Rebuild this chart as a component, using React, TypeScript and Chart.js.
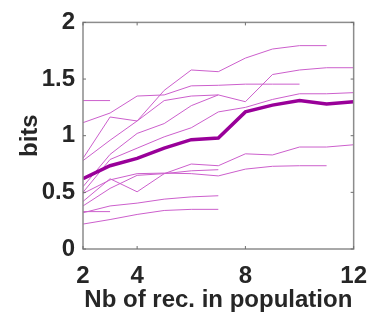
import React, { useEffect, useRef } from "react";
import { Chart, registerables } from "chart.js";

Chart.register(...registerables);

// x: number of receptors in population
const popSizes = [2, 3, 4, 5, 6, 7, 8, 9, 10, 11, 12];
const xTickValues = [2, 4, 8, 12];
const yTickValues = [0, 0.5, 1, 1.5, 2];
const yTickLabels = ["0", "0.5", "1", "1.5", "2"];

// individual populations (bits), starting at popSize 2
const popA = [1.31, 1.31];
const popB = [1.115, 1.2, 1.35, 1.36, 1.44, 1.445, 1.455, 1.455, 1.455];
const popC = [0.8, 1.165, 1.13, 1.4, 1.58, 1.565, 1.685, 1.765, 1.795, 1.795];
const popE = [0.78, 0.96, 1.13, 1.31, 1.35, 1.36, 1.3, 1.54, 1.58, 1.6, 1.6];
const popG = [0.55, 0.835, 1.02, 1.107, 1.265, 1.36];
const popF = [0.5, 0.79, 0.89, 0.99, 1.07, 1.21, 1.25, 1.32, 1.37, 1.37, 1.38];
const popH = [0.38, 0.535, 0.65, 0.665, 0.75, 0.735, 0.84, 0.83, 0.9, 0.9, 0.92];
const popI = [0.49, 0.61, 0.665, 0.67, 0.665, 0.645, 0.705, 0.73, 0.735, 0.735];
const popJ = [0.42, 0.62, 0.505, 0.665, 0.69, 0.7];
const popK = [0.32, 0.38, 0.405, 0.44, 0.46, 0.47];
const popM = [0.22, 0.26, 0.305, 0.34, 0.35, 0.35];
const popN = [0.33, 0.33];

// mean over populations
const meanBits = [0.62, 0.735, 0.8, 0.89, 0.965, 0.98, 1.21, 1.27, 1.31, 1.28, 1.3];

const thinSeries = [popA, popB, popC, popE, popG, popF, popH, popI, popJ, popK, popM, popN];

const FONT = "'Liberation Sans', Arial, Helvetica, sans-serif";
const TEXT = "#262626";
const THIN = "#cc5fcc";
const MEAN = "#990099";

const toPoints = (vals: number[]) => vals.map((v, i) => ({ x: popSizes[i], y: v }));

const boxPlugin = {
  id: "matlabBox",
  afterDatasetsDraw(chart: any) {
    const { ctx, chartArea, scales } = chart;
    const { left, right, top, bottom } = chartArea;
    ctx.save();
    ctx.strokeStyle = "#8c8c8c";
    ctx.lineWidth = 1.5;
    ctx.strokeRect(left, top, right - left, bottom - top);
    ctx.lineWidth = 1;
    ctx.strokeStyle = "#6e6e6e";
    ctx.beginPath();
    xTickValues.forEach((v) => {
      const px = scales.x.getPixelForValue(v);
      ctx.moveTo(px, bottom);
      ctx.lineTo(px, bottom - 3);
      ctx.moveTo(px, top);
      ctx.lineTo(px, top + 3);
    });
    yTickValues.forEach((v) => {
      const py = scales.y.getPixelForValue(v);
      ctx.moveTo(left, py);
      ctx.lineTo(left + 3, py);
      ctx.moveTo(right, py);
      ctx.lineTo(right - 3, py);
    });
    ctx.stroke();
    ctx.restore();
  },
};

export default function App() {
  const canvasRef = useRef<HTMLCanvasElement | null>(null);

  useEffect(() => {
    const canvas = canvasRef.current;
    if (!canvas) return;
    const datasets: any[] = [
      {
        data: toPoints(meanBits),
        borderColor: MEAN,
        borderWidth: 3.5,
        pointRadius: 0,
        tension: 0,
        order: 0,
      },
      ...thinSeries.map((s) => ({
        data: toPoints(s),
        borderColor: THIN,
        borderWidth: 1,
        pointRadius: 0,
        tension: 0,
        order: 1,
      })),
    ];
    const chart = new Chart(canvas, {
      type: "line",
      data: { datasets },
      options: {
        animation: false,
        responsive: false,
        maintainAspectRatio: false,
        layout: { padding: { top: 16, right: 17, left: 0, bottom: 0 } },
        plugins: { legend: { display: false }, tooltip: { enabled: false } },
        scales: {
          x: {
            type: "linear",
            min: 2,
            max: 12,
            grid: { display: false, drawTicks: false },
            border: { display: false },
            afterBuildTicks: (scale: any) => {
              scale.ticks = xTickValues.map((v) => ({ value: v }));
            },
            afterFit: (scale: any) => {
              scale.height = 69;
            },
            ticks: {
              padding: 13,
              color: TEXT,
              font: { family: FONT, size: 24, weight: "bold" },
              maxRotation: 0,
              autoSkip: false,
              callback: (v: any) => String(v),
            },
            title: {
              display: true,
              text: "Nb of rec. in population",
              color: TEXT,
              font: { family: FONT, size: 24, weight: "bold" },
              padding: { top: 0, bottom: 3 },
            },
          },
          y: {
            type: "linear",
            min: 0,
            max: 2,
            grid: { display: false, drawTicks: false },
            border: { display: false },
            afterBuildTicks: (scale: any) => {
              scale.ticks = yTickValues.map((v) => ({ value: v }));
            },
            afterFit: (scale: any) => {
              scale.width = 83;
            },
            ticks: {
              padding: 8,
              color: TEXT,
              font: { family: FONT, size: 24, weight: "bold" },
              callback: (v: any) => {
                const i = yTickValues.indexOf(Number(v));
                return i >= 0 ? yTickLabels[i] : String(v);
              },
            },
            title: {
              display: true,
              text: "bits",
              color: TEXT,
              font: { family: FONT, size: 24, weight: "bold" },
              padding: { top: 16, bottom: 0 },
            },
          },
        },
      },
      plugins: [boxPlugin],
    });
    return () => chart.destroy();
  }, []);

  return (
    <div style={{ position: "absolute", left: 0, top: 0, width: 380, height: 318, background: "#fff" }}>
      <canvas ref={canvasRef} width={380} height={318} style={{ display: "block" }} />
    </div>
  );
}
